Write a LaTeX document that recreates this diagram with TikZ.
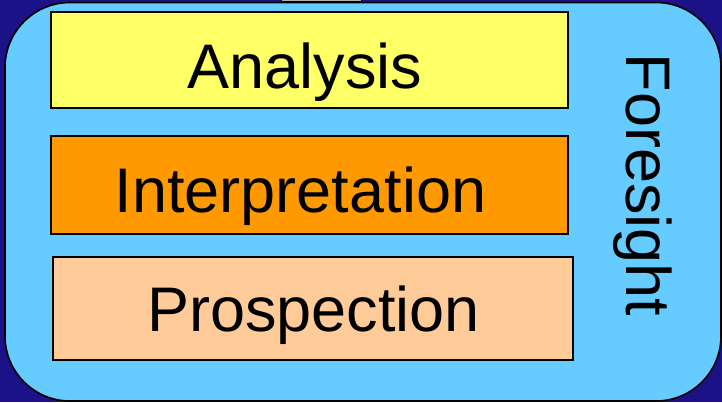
\documentclass[tikz,border=0pt]{standalone}
\usepackage{fontspec}
\setmainfont{Liberation Sans}
\definecolor{bgblue}{HTML}{1B1288}
\definecolor{panelblue}{HTML}{66CCFF}
\definecolor{boxyellow}{HTML}{FFFF66}
\definecolor{boxorange}{HTML}{FF9900}
\definecolor{boxpeach}{HTML}{FFCC99}
\definecolor{tabgrey}{HTML}{B0B0B0}
\begin{document}
\begin{tikzpicture}[x=1pt,y=-1pt,
  layerbox/.style={draw=black, line width=2pt, inner sep=0pt},
  bigtext/.style={font=\fontsize{63}{70}\selectfont, inner sep=0pt}]
\useasboundingbox (0,0) rectangle (722,402);
\fill[bgblue] (0,0) rectangle (722,402);
\draw[black, line width=1pt, fill=tabgrey] (281,-3) rectangle (361,1.5);
\draw[black, line width=1.6pt, fill=panelblue, rounded corners=65pt] (5,2.5) rectangle (721,401);
\node[layerbox, fill=boxyellow, minimum width=517pt, minimum height=96pt] (analysis) at (309.5,60) {};
\node[layerbox, fill=boxorange, minimum width=517pt, minimum height=98pt] (interp) at (309.5,185) {};
\node[layerbox, fill=boxpeach, minimum width=520pt, minimum height=103pt] (prosp) at (313,308.5) {};
\node[bigtext, anchor=base] (tA) at (305,88) {Analysis};
\node[bigtext, anchor=base] (tI) at (300.5,212) {Interpretation};
\node[bigtext, anchor=base] (tP) at (313.5,331) {Prospection};
\node[bigtext, rotate=-90, anchor=base] (fs) at (626,185) {Foresight};
\end{tikzpicture}
\end{document}
